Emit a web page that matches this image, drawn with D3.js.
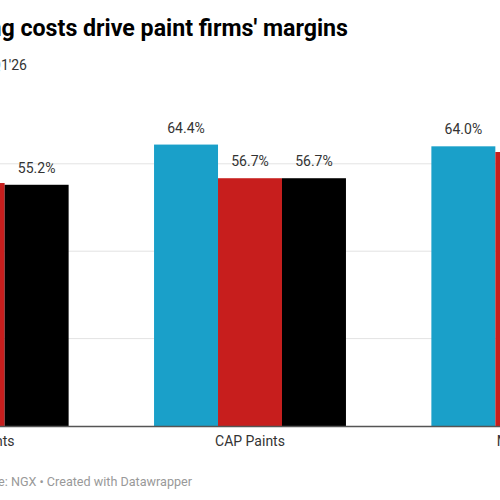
<!DOCTYPE html>
<html><head><meta charset="utf-8">
<script src="https://cdn.jsdelivr.net/npm/d3@7"></script>
<style>body{margin:0;background:#fff}svg{display:block;font-family:Roboto,sans-serif}</style>
</head><body><svg id="c" width="500" height="500"></svg>
<script>
const categories = ["Berger Paints", "CAP Paints", "Meyer Plc"];
const seriesNames = ["Q1'24", "Q1'25", "Q1'26"];
const colors = ["#1aa0c9", "#c71e1d", "#000000"];
const s1 = [63.0, 64.4, 64.0];
const s2 = [55.6, 56.7, 62.7];
const s3 = [55.2, 56.7, 60.0];
const gridTicks = [0, 20, 40, 60];

const svg = d3.select("#c");
const x0 = d3.scaleBand().domain(categories).range([-166, 666]).paddingInner(0.308).paddingOuter(0.154);
const x1 = d3.scaleBand().domain([0,1,2]).range([0, x0.bandwidth()]);
const y = d3.scaleLinear().domain([0, 20]).range([426, 338.6]);

svg.append("g").selectAll("line").data(gridTicks.slice(1)).join("line")
  .attr("x1", 0).attr("x2", 500).attr("y1", d=>y(d)).attr("y2", d=>y(d))
  .attr("stroke", "#e3e3e3");

const series = [s1, s2, s3];
categories.forEach((c, i) => {
  const g = svg.append("g").attr("transform", `translate(${x0(c)},0)`);
  series.forEach((s, k) => {
    g.append("rect").attr("x", x1(k)).attr("width", x1.bandwidth())
      .attr("y", y(s[i])).attr("height", y(0) - y(s[i])).attr("fill", colors[k]);
    g.append("text").attr("x", x1(k) + x1.bandwidth()/2).attr("y", y(s[i]) - 12)
      .attr("text-anchor", "middle").attr("font-size", 14).attr("fill", "#333")
      .text(s[i].toFixed(1) + "%");
  });
});

svg.append("g").attr("transform", "translate(0,426)")
  .call(d3.axisBottom(x0).tickSize(0).tickPadding(10))
  .call(g => { g.select(".domain").attr("stroke", "#555").attr("stroke-width", 1.5);
    g.selectAll("text").attr("font-size", 14).attr("fill", "#333").attr("font-family", "Roboto,sans-serif"); });

svg.append("text").attr("x", 348).attr("y", 36).attr("text-anchor", "end")
  .attr("font-size", 23.2).attr("font-weight", "bold").attr("fill", "#000")
  .text("Rising costs drive paint firms' margins");
svg.append("text").attr("x", 27).attr("y", 70).attr("text-anchor", "end")
  .attr("font-size", 14).attr("fill", "#333").text("Gross margin, Q1'24 to Q1'26");
svg.append("text").attr("x", 192).attr("y", 486).attr("text-anchor", "end")
  .attr("font-size", 12.6).attr("fill", "#999").text("Source: NGX • Created with Datawrapper");
</script></body></html>
